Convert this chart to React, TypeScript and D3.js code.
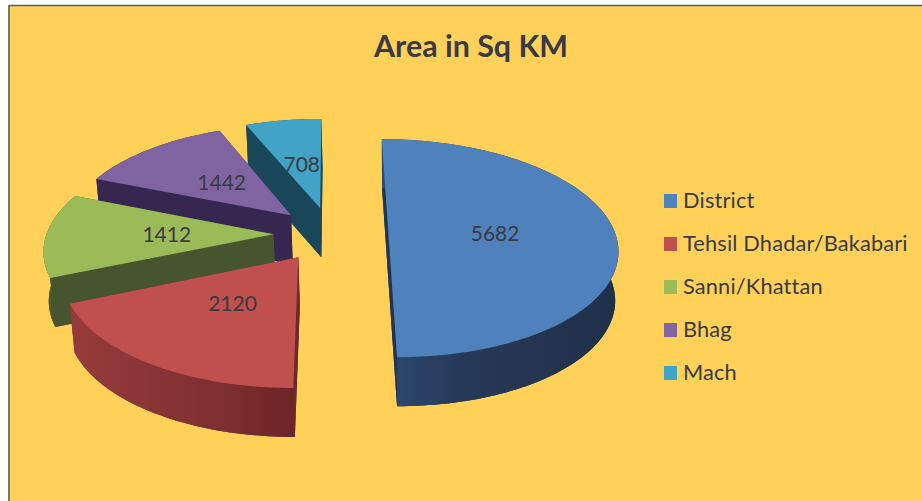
import React from "react";
import * as d3 from "d3";

const categories = ["District", "Tehsil Dhadar/Bakabari", "Sanni/Khattan", "Bhag", "Mach"];
const areas = [5682, 2120, 1412, 1442, 708];
const title = "Area in Sq KM";

const topColors = ["#4f81bd", "#c0504d", "#9bbb59", "#8064a2", "#41a3c6"];
const wallColors = ["#1f3450", "#6f292a", "#47552f", "#35274f", "#194659"];
const wallStops = [
  ["#2d4a70", "#27395a", "#25344f", "#1f3049"],
  ["#963b3b", "#8a3536", "#7f2f30", "#6c2527"],
  ["#4f5f33", "#47552f", "#47552f", "#47552f"],
  ["#35274f", "#35274f", "#35274f", "#35274f"],
  ["#194659", "#194659", "#194659", "#194659"],
];

const W = 922;
const H = 501;
const cx = 331;
const cy = 234;
const rX = 227;
const rY = 107.2;
const persp = 0.13;
const explode = 0.253;
const depth = 49;
const baseScale = 0.985;
const baseShift = 1;
const labelR = 0.47;

type P = [number, number];

function project(u: number, v: number, base = false): P {
  const w = 1 - persp * v;
  const x = (rX * u) / w;
  const y = (rY * v) / w;
  return base ? [cx + x * baseScale + baseShift, cy + y + depth] : [cx + x, cy + y];
}

const pie = d3.pie<number>().sort(null).startAngle(0).endAngle(2 * Math.PI);
const slices = pie(areas);
const line = d3.line<P>();
const close = (pts: P[]) => (line(pts) as string) + "Z";

const legendY = d3.scalePoint<number>().domain(d3.range(categories.length)).range([200, 372]);

function geometry(i: number) {
  const s = slices[i];
  const mid = (s.startAngle + s.endAngle) / 2;
  const u0 = explode * Math.sin(mid);
  const v0 = -explode * Math.cos(mid);
  const n = Math.max(6, Math.ceil((s.endAngle - s.startAngle) * 40));
  const angles = d3.range(n + 1).map((k) => s.startAngle + ((s.endAngle - s.startAngle) * k) / n);
  const at = (a: number, r: number, base = false) =>
    project(u0 + r * Math.sin(a), v0 - r * Math.cos(a), base);
  const topArc = angles.map((a) => at(a, 1));
  const baseArc = angles.map((a) => at(a, 1, true));
  const apexTop = project(u0, v0);
  const apexBase = project(u0, v0, true);
  const xs = [...topArc, ...baseArc].map((p) => p[0]);
  return {
    top: close([apexTop, ...topArc]),
    base: close([apexBase, ...baseArc]),
    outer: close([...topArc, ...[...baseArc].reverse()]),
    wallStart: close([apexTop, topArc[0], baseArc[0], apexBase]),
    wallEnd: close([apexTop, topArc[n], baseArc[n], apexBase]),
    label: at(mid, labelR),
    x0: d3.min(xs) as number,
    x1: d3.max(xs) as number,
  };
}

const geos = areas.map((_, i) => geometry(i));
const drawOrder = d3.range(areas.length).reverse();
const font = "Lato, 'Open Sans', sans-serif";
const ink = "#3a3a42";

export default function App() {
  return (
    <svg
      width={W}
      height={H}
      viewBox={`0 0 ${W} ${H}`}
      style={{ position: "absolute", left: 0, top: 0, display: "block" }}
    >
      <defs>
        {geos.map((g, i) => (
          <linearGradient
            key={i}
            id={`wall${i}`}
            gradientUnits="userSpaceOnUse"
            x1={g.x0}
            x2={g.x1}
            y1={0}
            y2={0}
          >
            {wallStops[i].map((c, k) => (
              <stop key={k} offset={k / (wallStops[i].length - 1)} stopColor={c} />
            ))}
          </linearGradient>
        ))}
      </defs>
      <rect width={W} height={H} fill="#ffffff" />
      <rect x={9} y={5} width={W - 9} height={H - 5} fill="#ffd159" />
      <line x1={9} x2={W} y1={5.5} y2={5.5} stroke="#5a5a5a" strokeWidth={1.5} />
      <line x1={9} x2={9} y1={5} y2={H} stroke="#777777" strokeWidth={2} />
      <text
        x={471}
        y={57}
        textAnchor="middle"
        fontFamily={font}
        fontWeight={700}
        fontSize={30.4}
        fill={ink}
      >
        {title}
      </text>
      {drawOrder.map((i) => {
        const g = geos[i];
        return (
          <g key={i}>
            <path d={g.base} fill={wallColors[i]} />
            <path d={g.wallStart} fill={wallColors[i]} />
            <path d={g.wallEnd} fill={wallColors[i]} />
            <path d={g.outer} fill={`url(#wall${i})`} />
            <path d={g.top} fill={topColors[i]} />
          </g>
        );
      })}
      {areas.map((v, i) => (
        <text
          key={i}
          x={geos[i].label[0]}
          y={geos[i].label[1]}
          dy="0.35em"
          textAnchor="middle"
          fontFamily={font}
          fontSize={21}
          fill={ink}
        >
          {v}
        </text>
      ))}
      {categories.map((c, i) => (
        <g key={c}>
          <rect x={664} y={(legendY(i) as number) - 6} width={13} height={14} fill={topColors[i]} />
          <text
            x={683}
            y={legendY(i) as number}
            dy="0.35em"
            fontFamily={font}
            fontSize={21.8}
            letterSpacing={0.15}
            fill={ink}
          >
            {c}
          </text>
        </g>
      ))}
    </svg>
  );
}
